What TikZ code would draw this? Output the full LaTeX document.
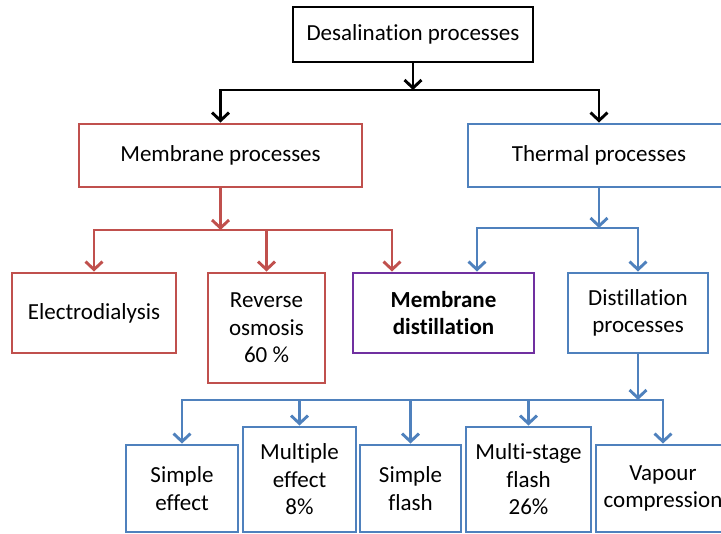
\documentclass[tikz,border=0pt]{standalone}
\usepackage{fontspec}
\setmainfont{Carlito}[Ligatures=NoCommon]
\usetikzlibrary{arrows.meta}
\definecolor{memred}{RGB}{192,80,77}
\definecolor{thblue}{RGB}{79,129,189}
\definecolor{mdpurple}{RGB}{112,48,160}
\tikzset{
  box/.style={draw, line width=2.9pt, align=center, inner sep=0pt,
    font=\fontsize{23}{27.5}\selectfont},
  arr/.style={line width=2.9pt, -{Straight Barb[length=8pt, width=17pt]}},
}

\begin{document}
\begin{tikzpicture}[x=1pt, y=-1pt]
            \useasboundingbox (0, 0) rectangle (721, 534);
            % top level
            \node[box, minimum width=240, minimum height=55] (desal) at (413, 34.5) {Desalination processes};
            \node[box, draw=memred, minimum width=283, minimum height=63] (memb) at (220.5, 155.5) {Membrane processes};
            \node[box, draw=thblue, minimum width=262, minimum height=63] (therm) at (599, 155.5) {Thermal processes};
            % second level
            \node[box, draw=memred, minimum width=164, minimum height=80] (ed) at (94, 313) {Electrodialysis};
            \node[box, draw=memred, minimum width=117, minimum height=110] (ro) at (266.5, 328) {Reverse\\osmosis\\60 \%};
            \node[box, draw=mdpurple, minimum width=181, minimum height=80, font=\fontsize{23}{27.5}\selectfont\bfseries] (md) at (443.5, 313) {Membrane\\distillation};
            \node[box, draw=thblue, minimum width=140, minimum height=80] (dist) at (638, 313) {Distillation\\processes};
            % distillation processes
            \node[box, draw=thblue, minimum width=112, minimum height=87] (se) at (182, 488.5) {Simple\\effect};
            \node[box, draw=thblue, minimum width=113, minimum height=105] (me) at (299.5, 479.5) {Multiple\\effect\\8\%};
            \node[box, draw=thblue, minimum width=101, minimum height=87] (sf) at (410.5, 488.5) {Simple\\flash};
            \node[box, draw=thblue, minimum width=125, minimum height=105] (msf) at (528.5, 479.5) {Multi-stage\\flash\\26\%};
            \node[box, draw=thblue, minimum width=134, minimum height=87] (vc) at (663, 488.5) {Vapour\\compression};
            % buses
            \coordinate (topbus) at (413, 90);
            \coordinate (membus) at (220.5, 230);
            \coordinate (thbus) at (599, 228);
            \coordinate (distbus) at (638, 400);
            \draw[arr] (desal.south) -- (topbus);
            \draw[arr] (topbus) -| (memb.north);
            \draw[arr] (topbus) -| (therm.north);
            \draw[arr, memred] (memb.south) -- (membus);
            \draw[arr, memred] (membus) -| (ed.north);
            \draw[arr, memred] (membus) -| (ro.north);
            \draw[arr, memred] (membus) -| ([xshift=-51.5]md.north);
            \draw[arr, thblue] (therm.south) -- (thbus);
            \draw[arr, thblue] (thbus) -| ([xshift=33.5]md.north);
            \draw[arr, thblue] (thbus) -| (dist.north);
            \draw[arr, thblue] (dist.south) -- (distbus);
            \foreach \n in {se, me, sf, msf, vc} {
                \draw[arr, thblue] (distbus) -| (\n.north);
            }
        \end{tikzpicture}
\end{document}
